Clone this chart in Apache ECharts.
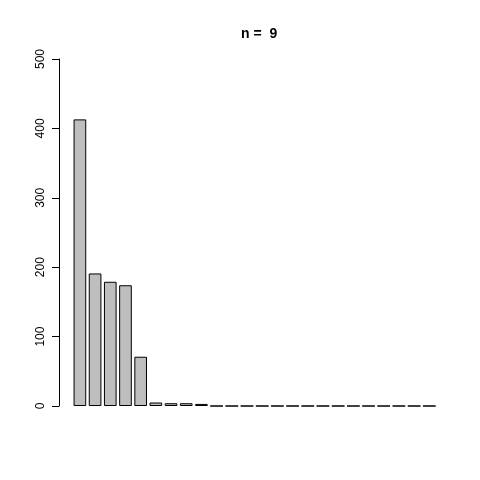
<!DOCTYPE html>
<html>
<head>
<meta charset="utf-8">
<script src="https://cdn.jsdelivr.net/npm/echarts@6/dist/echarts.min.js"></script>
<style>
  html, body { margin: 0; padding: 0; background: #fff; }
  #main { width: 480px; height: 480px; }
</style>
</head>
<body>
<div id="main"></div>
<script>
// bar categories (unlabelled in the picture) and counts
const categories = Array.from({ length: 24 }, (_, i) => String(i + 1))
const counts = [413, 191, 179, 174, 71, 5, 4, 4, 3, 0, 0, 0, 0, 0, 0, 0, 0, 0, 0, 0, 0, 0, 0, 0]
const yTicks = [0, 100, 200, 300, 400, 500]
const titleText = "n =  9"

const myChart = echarts.init(document.getElementById("main"), null, { renderer: "canvas" })

myChart.setOption({
  animation: false,
  title: {
    text: titleText,
    left: 236,
    top: 22,
    textStyle: { fontFamily: "Liberation Sans", fontSize: 14, fontWeight: "bold", color: "#000" },
  },
  grid: { left: 72.3, right: 43.1, top: 59, bottom: 74, containLabel: false },
  xAxis: {
    type: "category",
    data: categories,
    axisLine: { show: false },
    axisTick: { show: false },
    axisLabel: { show: false },
  },
  yAxis: {
    type: "value",
    min: yTicks[0],
    max: yTicks[yTicks.length - 1],
    interval: 100,
    offset: 13.3,
    splitLine: { show: false },
    axisLine: { show: true, lineStyle: { color: "#000", width: 1 } },
    axisTick: { show: true, length: 7, lineStyle: { color: "#000" } },
    axisLabel: {
      rotate: 90,
      margin: 12,
      fontFamily: "Liberation Sans",
      fontSize: 12,
      color: "#000",
    },
  },
  series: [
    {
      type: "bar",
      data: counts,
      barWidth: 12.66,
      itemStyle: { color: "#BEBEBE", borderColor: "#000", borderWidth: 1 },
    },
  ],
})
</script>
</body>
</html>
